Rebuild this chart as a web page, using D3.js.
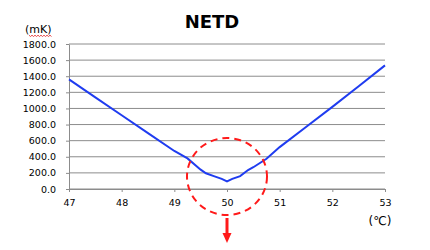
<!DOCTYPE html>
<html>
<head>
<meta charset="utf-8">
<script src="https://cdn.jsdelivr.net/npm/d3@7"></script>
<style>
  body { margin: 0; background: #fff; }
  text { font-family: "DejaVu Sans", Verdana, sans-serif; }
</style>
</head>
<body>
<script>
// Data
const temps = [47.0, 47.5, 48.0, 48.5, 49.0, 49.25, 49.5, 49.6, 49.75, 49.9, 50.0, 50.1, 50.25, 50.4, 50.5, 50.75, 51.0, 51.5, 52.0, 52.5, 53.0];
const netd  = [1360, 1138, 915, 693, 472, 380, 240, 195, 160, 125, 95, 125, 160, 235, 270, 375, 520, 770, 1020, 1275, 1535];
const xTicks = [47, 48, 49, 50, 51, 52, 53];
const yTicks = [0, 200, 400, 600, 800, 1000, 1200, 1400, 1600, 1800];

const width = 430, height = 250;

const svg = d3.select("body").append("svg")
  .attr("width", width)
  .attr("height", height);

const x = d3.scaleLinear().domain([47, 53]).range([69, 385]);
const y = d3.scaleLinear().domain([0, 1800]).range([189, 44]);

// Gridlines
svg.append("g")
  .selectAll("line")
  .data(yTicks)
  .join("line")
  .attr("x1", x(47))
  .attr("x2", x(53))
  .attr("y1", d => y(d))
  .attr("y2", d => y(d))
  .attr("stroke", "#8c8c8c")
  .attr("stroke-width", 1);

// Y axis
const yAxis = svg.append("g")
  .attr("transform", `translate(${x(47)},0)`)
  .call(d3.axisLeft(y).tickValues(yTicks).tickSize(3).tickSizeOuter(0).tickFormat(d3.format(".1f")));
yAxis.select(".domain").attr("stroke", "#8c8c8c");
yAxis.selectAll(".tick line").attr("stroke", "#8c8c8c");
yAxis.selectAll("text")
  .attr("x", -13)
  .style("font-size", "9.5px")
  .attr("fill", "#000");

// X axis
const xAxis = svg.append("g")
  .attr("transform", `translate(0,${y(0)})`)
  .call(d3.axisBottom(x).tickValues(xTicks).tickSize(3).tickSizeOuter(0).tickFormat(d3.format("d")));
xAxis.select(".domain").attr("stroke", "#8c8c8c");
xAxis.selectAll(".tick line").attr("stroke", "#8c8c8c");
xAxis.selectAll("text")
  .attr("y", 10)
  .style("font-size", "9.5px")
  .attr("fill", "#000");

// NETD line
const line = d3.line()
  .x((d, i) => x(temps[i]))
  .y(d => y(d));

svg.append("path")
  .datum(netd)
  .attr("d", line)
  .attr("fill", "none")
  .attr("stroke", "#1f3cf0")
  .attr("stroke-width", 2);

// Title
svg.append("text")
  .attr("x", 212)
  .attr("y", 28)
  .attr("text-anchor", "middle")
  .style("font-size", "18px")
  .style("font-weight", "bold")
  .text("NETD");

// Unit labels
svg.append("text")
  .attr("x", 25)
  .attr("y", 33)
  .style("font-size", "11px")
  .text("(mK)");

// red spell-check squiggle under mK
const squiggle = [];
for (let px = 29; px <= 52; px += 1.5) squiggle.push([px, 35.5 + ((px - 29) / 1.5 % 2 ? 1 : -0.3)]);
svg.append("path")
  .attr("d", d3.line()(squiggle))
  .attr("fill", "none")
  .attr("stroke", "#e02020")
  .attr("stroke-width", 0.8);

svg.append("text")
  .attr("x", 380)
  .attr("y", 225)
  .attr("text-anchor", "middle")
  .style("font-size", "12px")
  .text("(℃)");

// Dashed circle around the minimum
svg.append("ellipse")
  .attr("cx", x(50))
  .attr("cy", 176.5)
  .attr("rx", 40)
  .attr("ry", 38.5)
  .attr("fill", "none")
  .attr("stroke", "#ff1a1a")
  .attr("stroke-width", 2)
  .attr("stroke-dasharray", "7,5");

// Arrow down
svg.append("line")
  .attr("x1", x(50))
  .attr("x2", x(50))
  .attr("y1", 218)
  .attr("y2", 234)
  .attr("stroke", "#ff1a1a")
  .attr("stroke-width", 3);

svg.append("path")
  .attr("d", `M${x(50) - 4.5},233 L${x(50) + 4.5},233 L${x(50)},243 Z`)
  .attr("fill", "#ff1a1a");
</script>
</body>
</html>
